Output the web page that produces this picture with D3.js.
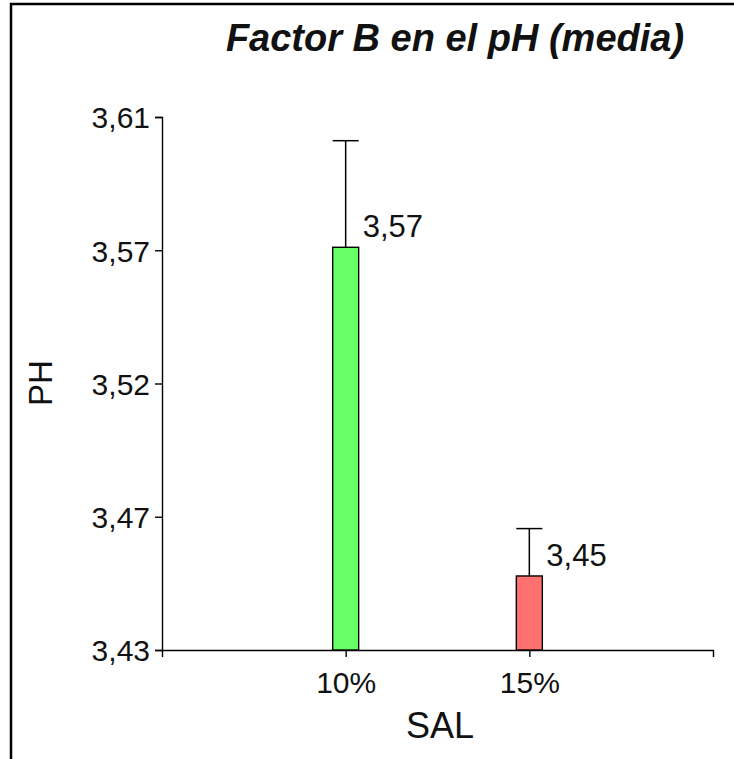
<!DOCTYPE html>
<html><head><meta charset="utf-8">
<script src="https://cdn.jsdelivr.net/npm/d3@7"></script>
<style>
html,body{margin:0;padding:0;background:#fff;}
svg{display:block;}
text{font-family:"Liberation Sans",Arial,sans-serif;fill:#111;}
</style></head>
<body>
<svg id="c" width="734" height="759"></svg>
<script>
const categories = ["10%", "15%"];
const means = [3.566, 3.455];
const upper = [3.602, 3.471];
const valueLabels = ["3,57", "3,45"];
const barColors = ["#66ff66", "#ff7070"];
const yTicks = [3.43, 3.475, 3.52, 3.565, 3.61];
const yTickLabels = ["3,43", "3,47", "3,52", "3,57", "3,61"];
const title = "Factor B en el pH (media)";
const xTitle = "SAL";
const yTitle = "PH";

(function(){
const svg = d3.select("#c");
svg.append("rect").attr("width",734).attr("height",759).attr("fill","#fff");
svg.append("path").attr("d","M11,759V4H734").attr("fill","none").attr("stroke","#000").attr("stroke-width",2.5);

const pl = 162, pr = 713, pt = 117, pb = 650;
const x = d3.scalePoint().domain(categories).range([pl, pr]).padding(1);
const y = d3.scaleLinear().domain([3.43, 3.61]).range([pb, pt]);

function styleAxis(g){
  g.select(".domain").attr("stroke","#000").attr("stroke-width",1.4);
  g.selectAll(".tick line").attr("stroke","#000").attr("stroke-width",1.4);
  g.selectAll(".tick text").attr("fill","#111").attr("font-family","Liberation Sans, Arial, sans-serif");
}
const gy = svg.append("g").attr("transform",`translate(${pl},0)`)
  .call(d3.axisLeft(y).tickValues(yTicks).tickFormat((d,i)=>yTickLabels[i]).tickSize(7).tickPadding(5));
styleAxis(gy);
gy.selectAll(".tick text").attr("font-size",30).attr("dy","0.36em");

const gx = svg.append("g").attr("transform",`translate(0,${pb})`)
  .call(d3.axisBottom(x).tickSize(7).tickPadding(15));
styleAxis(gx);
gx.selectAll(".tick text").attr("font-size",30).attr("dy","0.71em");

const bw = 26;
const data = categories.map((c,i)=>({c, m:means[i], u:upper[i], l:valueLabels[i], col:barColors[i]}));
svg.selectAll("rect.bar").data(data).join("rect").attr("class","bar")
  .attr("x",d=>x(d.c)-bw/2).attr("width",bw)
  .attr("y",d=>y(d.m)).attr("height",d=>y(3.43)-y(d.m))
  .attr("fill",d=>d.col).attr("stroke","#000").attr("stroke-width",1.4);
svg.selectAll("line.err").data(data).join("line").attr("class","err")
  .attr("x1",d=>x(d.c)).attr("x2",d=>x(d.c)).attr("y1",d=>y(d.m)).attr("y2",d=>y(d.u))
  .attr("stroke","#000").attr("stroke-width",1.5);
svg.selectAll("line.cap").data(data).join("line").attr("class","cap")
  .attr("x1",d=>x(d.c)-bw/2).attr("x2",d=>x(d.c)+bw/2).attr("y1",d=>y(d.u)).attr("y2",d=>y(d.u))
  .attr("stroke","#000").attr("stroke-width",1.5);
svg.selectAll("text.val").data(data).join("text").attr("class","val")
  .attr("x",d=>x(d.c)+17).attr("y",d=>y(d.m)-10)
  .attr("font-size",31).text(d=>d.l);

svg.append("text").attr("x",455).attr("y",51)
  .attr("text-anchor","middle").attr("font-size",38).attr("font-weight","bold").attr("font-style","italic")
  .text(title);
svg.append("text").attr("x",440).attr("y",738)
  .attr("text-anchor","middle").attr("font-size",36).text(xTitle);
svg.append("text").attr("transform","translate(52,383) rotate(-90)")
  .attr("text-anchor","middle").attr("font-size",33).text(yTitle);
})();
</script>
</body></html>
